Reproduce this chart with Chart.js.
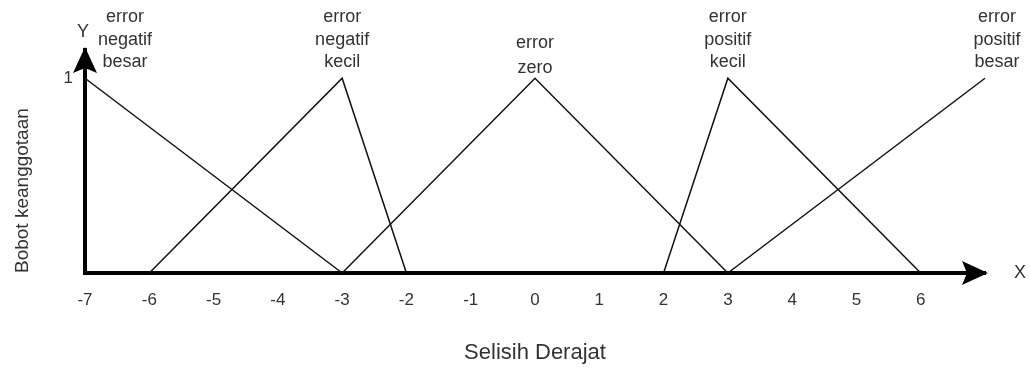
<!DOCTYPE html>
<html>
<head>
<meta charset="utf-8">
<title>Fungsi keanggotaan error</title>
<script src="https://cdn.jsdelivr.net/npm/chart.js@4.4.1/dist/chart.umd.min.js"></script>
<style>
  html, body { margin: 0; padding: 0; background: #fff; }
  #wrap { width: 1030px; height: 370px; }
</style>
</head>
<body>
<div id="wrap"><canvas id="fuzzyChart"></canvas></div>
<script>
// himpunan fuzzy untuk error (selisih derajat)
const setNames = [
  ["error", "negatif", "besar"],
  ["error", "negatif", "kecil"],
  ["error", "zero"],
  ["error", "positif", "kecil"],
  ["error", "positif", "besar"]
];
const setX = [
  [-7, -3],
  [-6, -3, -2],
  [-3, 0, 3],
  [2, 3, 6],
  [3, 7]
];
const setY = [
  [1, 0],
  [0, 1, 0],
  [0, 1, 0],
  [0, 1, 0],
  [0, 1]
];
const xTicks = [-7, -6, -5, -4, -3, -2, -1, 0, 1, 2, 3, 4, 5, 6];
const yTicks = [1];

const FONT = "'Liberation Sans', Arial, sans-serif";
const TEXT = '#333';

// pergeseran label nama himpunan dari puncaknya (px)
const nameShift = [40, 0, 0, 0, 12];

const datasets = setNames.map((name, i) => ({
  label: name.join(' '),
  data: setX[i].map((x, j) => ({ x: x, y: setY[i][j] })),
  borderColor: '#111',
  borderWidth: 1.5,
  pointRadius: 0,
  tension: 0,
  fill: false,
  clip: false
}));

const axisDecor = {
  id: 'axisDecor',
  afterDraw(chart) {
    const { ctx, chartArea, scales } = chart;
    const { left, right, top, bottom } = chartArea;
    ctx.save();
    ctx.fillStyle = '#000';
    // panah sumbu Y
    ctx.beginPath();
    ctx.moveTo(left, top - 3);
    ctx.lineTo(left + 12, top + 23);
    ctx.lineTo(left, top + 18);
    ctx.lineTo(left - 12, top + 23);
    ctx.closePath();
    ctx.fill();
    // panah sumbu X
    ctx.beginPath();
    ctx.moveTo(right + 3, bottom);
    ctx.lineTo(right - 23, bottom + 12);
    ctx.lineTo(right - 18, bottom);
    ctx.lineTo(right - 23, bottom - 12);
    ctx.closePath();
    ctx.fill();

    ctx.fillStyle = TEXT;
    ctx.font = '18px ' + FONT;
    ctx.textAlign = 'center';
    ctx.textBaseline = 'middle';
    ctx.fillText('Y', left - 2, 32);
    ctx.fillText('X', 1020, bottom);

    // nama himpunan di atas puncak segitiga
    setNames.forEach((lines, i) => {
      const peak = setY[i].indexOf(Math.max(...setY[i]));
      const px = scales.x.getPixelForValue(setX[i][peak]) + nameShift[i];
      const py = scales.y.getPixelForValue(setY[i][peak]);
      const gap = lines.length > 2 ? 16 : 10;
      const lh = lines.length > 2 ? 22.5 : 25;
      lines.forEach((t, k) => {
        ctx.fillText(t, px, py - gap - (lines.length - 1 - k) * lh);
      });
    });
    ctx.restore();
  }
};

new Chart(document.getElementById('fuzzyChart'), {
  type: 'line',
  data: { datasets: datasets },
  options: {
    responsive: true,
    maintainAspectRatio: false,
    animation: false,
    layout: { padding: { top: 50, right: 45, bottom: 0, left: 0 } },
    plugins: {
      legend: { display: false },
      tooltip: { enabled: false }
    },
    scales: {
      x: {
        type: 'linear',
        min: -7,
        max: 7,
        afterFit(scale) { scale.height = 97; },
        afterBuildTicks(scale) { scale.ticks = xTicks.map(v => ({ value: v })); },
        grid: { display: false, drawTicks: false },
        border: { display: true, color: '#000', width: 4 },
        ticks: { color: TEXT, font: { family: FONT, size: 17 }, padding: 17 },
        title: {
          display: true,
          text: 'Selisih Derajat',
          color: TEXT,
          font: { family: FONT, size: 22 },
          padding: { top: 0, bottom: 4 }
        }
      },
      y: {
        type: 'linear',
        min: 0,
        max: 1.145,
        afterFit(scale) { scale.width = 85; },
        afterBuildTicks(scale) { scale.ticks = yTicks.map(v => ({ value: v })); },
        grid: { display: false, drawTicks: false },
        border: { display: true, color: '#000', width: 4 },
        ticks: { color: TEXT, font: { family: FONT, size: 17 }, padding: 12 },
        title: {
          display: true,
          text: 'Bobot keanggotaan',
          align: 'start',
          color: TEXT,
          font: { family: FONT, size: 19 },
          padding: { top: 11, bottom: 0 }
        }
      }
    }
  },
  plugins: [axisDecor]
});
</script>
</body>
</html>
